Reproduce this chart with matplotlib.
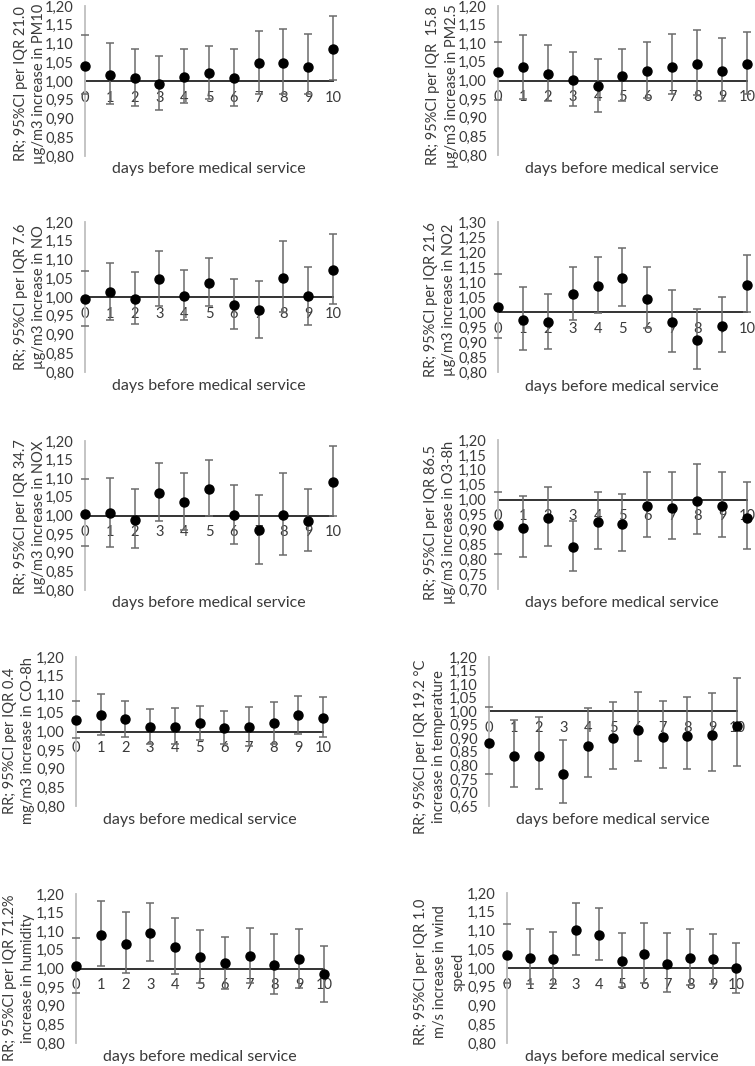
import matplotlib
matplotlib.use("Agg")
import matplotlib.pyplot as plt
from matplotlib.ticker import MultipleLocator, FuncFormatter

plt.rcParams['font.family'] = ['Lato', 'DejaVu Sans']

W, H = 755, 1066
days = [0, 1, 2, 3, 4, 5, 6, 7, 8, 9, 10]

# ---- data (RR, lower 95% CI, upper 95% CI) ----
pm10_rr = [1.041, 1.017, 1.008, 0.992, 1.010, 1.020, 1.008, 1.048, 1.049, 1.038, 1.084]
pm10_lo = [0.965, 0.939, 0.933, 0.922, 0.940, 0.952, 0.933, 0.966, 0.964, 0.964, 1.003]
pm10_hi = [1.123, 1.100, 1.086, 1.066, 1.084, 1.094, 1.086, 1.134, 1.140, 1.126, 1.172]

pm25_rr = [1.023, 1.037, 1.017, 1.001, 0.985, 1.011, 1.026, 1.037, 1.044, 1.026, 1.043]
pm25_lo = [0.948, 0.949, 0.946, 0.931, 0.915, 0.944, 0.954, 0.963, 0.960, 0.945, 0.964]
pm25_hi = [1.104, 1.123, 1.095, 1.076, 1.059, 1.085, 1.104, 1.126, 1.135, 1.113, 1.129]

no_rr = [0.995, 1.013, 0.996, 1.048, 1.003, 1.038, 0.979, 0.965, 1.050, 1.002, 1.072]
no_lo = [0.922, 0.938, 0.928, 0.977, 0.938, 0.977, 0.915, 0.891, 0.959, 0.926, 0.981]
no_hi = [1.070, 1.090, 1.067, 1.124, 1.071, 1.103, 1.047, 1.042, 1.150, 1.079, 1.167]

no2_rr = [1.017, 0.974, 0.967, 1.059, 1.087, 1.115, 1.043, 0.966, 0.907, 0.955, 1.091]
no2_lo = [0.914, 0.873, 0.878, 0.975, 0.998, 1.021, 0.947, 0.867, 0.810, 0.868, 1.000]
no2_hi = [1.126, 1.085, 1.061, 1.149, 1.182, 1.215, 1.149, 1.073, 1.011, 1.050, 1.191]

nox_rr = [1.004, 1.006, 0.988, 1.060, 1.036, 1.071, 1.002, 0.961, 1.001, 0.986, 1.089]
nox_lo = [0.918, 0.916, 0.912, 0.984, 0.962, 0.998, 0.923, 0.871, 0.895, 0.904, 0.999]
nox_hi = [1.097, 1.102, 1.071, 1.140, 1.113, 1.149, 1.082, 1.055, 1.115, 1.072, 1.187]

o3_rr = [0.915, 0.904, 0.937, 0.840, 0.924, 0.917, 0.977, 0.973, 0.995, 0.977, 0.939]
o3_lo = [0.817, 0.809, 0.843, 0.759, 0.835, 0.827, 0.875, 0.869, 0.885, 0.873, 0.833]
o3_hi = [1.024, 1.012, 1.043, 0.929, 1.025, 1.020, 1.091, 1.091, 1.119, 1.093, 1.058]

co_rr = [1.031, 1.043, 1.033, 1.012, 1.012, 1.023, 1.010, 1.011, 1.024, 1.043, 1.037]
co_lo = [0.982, 0.990, 0.985, 0.966, 0.966, 0.977, 0.966, 0.961, 0.967, 0.992, 0.985]
co_hi = [1.082, 1.100, 1.082, 1.060, 1.064, 1.069, 1.056, 1.066, 1.080, 1.094, 1.093]

temp_rr = [0.883, 0.834, 0.834, 0.768, 0.873, 0.900, 0.932, 0.905, 0.910, 0.911, 0.946]
temp_lo = [0.768, 0.720, 0.713, 0.660, 0.756, 0.785, 0.817, 0.791, 0.787, 0.780, 0.797]
temp_hi = [1.017, 0.966, 0.977, 0.893, 1.012, 1.035, 1.070, 1.038, 1.053, 1.067, 1.124]

hum_rr = [1.006, 1.091, 1.066, 1.095, 1.058, 1.030, 1.014, 1.034, 1.009, 1.026, 0.984]
hum_lo = [0.933, 1.006, 0.987, 1.019, 0.984, 0.962, 0.945, 0.960, 0.931, 0.947, 0.910]
hum_hi = [1.082, 1.181, 1.151, 1.176, 1.135, 1.103, 1.085, 1.110, 1.093, 1.106, 1.060]

wind_rr = [1.035, 1.028, 1.024, 1.102, 1.088, 1.020, 1.037, 1.012, 1.028, 1.024, 1.000]
wind_lo = [0.960, 0.957, 0.957, 1.035, 1.021, 0.950, 0.960, 0.937, 0.956, 0.957, 0.934]
wind_hi = [1.116, 1.105, 1.095, 1.173, 1.159, 1.094, 1.121, 1.094, 1.104, 1.091, 1.068]

ylabels = [
    "RR; 95%CI per IQR 21.0\nµg/m3 increase in PM10",
    "RR; 95%CI per IQR  15.8\nµg/m3 increase in PM2.5",
    "RR; 95%CI per IQR 7.6\nµg/m3 increase in NO",
    "RR; 95%CI per IQR 21.6\nµg/m3 increase in NO2",
    "RR; 95%CI per IQR 34.7\nµg/m3 increase in NOX",
    "RR; 95%CI per IQR 86.5\nµg/m3 increase in O3-8h",
    "RR; 95%CI per IQR 0.4\nmg/m3 increase in CO-8h",
    "RR; 95%CI per IQR 19.2 °C\nincrease in temperature",
    "RR; 95%CI per IQR 71.2%\nincrease in humidity",
    "RR; 95%CI per IQR 1.0\nm/s increase in wind\nspeed",
]
xlabel = "days before medical service"
ymins = [0.80, 0.80, 0.80, 0.80, 0.80, 0.70, 0.80, 0.65, 0.80, 0.80]
ymaxs = [1.20, 1.20, 1.20, 1.30, 1.20, 1.20, 1.20, 1.20, 1.20, 1.20]

series = [
    (pm10_rr, pm10_lo, pm10_hi), (pm25_rr, pm25_lo, pm25_hi),
    (no_rr, no_lo, no_hi), (no2_rr, no2_lo, no2_hi),
    (nox_rr, nox_lo, nox_hi), (o3_rr, o3_lo, o3_hi),
    (co_rr, co_lo, co_hi), (temp_rr, temp_lo, temp_hi),
    (hum_rr, hum_lo, hum_hi), (wind_rr, wind_lo, wind_hi),
]

# layout in pixels: x_left, x_right, y_top, y_bottom, ylabel center (x,y), xlabel center (x,y)
layout = [
    (85, 333, 6, 156, (30, 84), (209, 169)),
    (498, 747, 6, 155, (442.5, 86), (622, 169)),
    (85, 333, 222, 372, (30, 297), (209, 386)),
    (498, 747, 222, 372, (440, 300), (622, 387)),
    (85, 333, 441, 590, (30, 517), (209, 603)),
    (498, 747, 440, 589, (440, 522), (622, 603)),
    (76, 323, 657, 806, (19, 741), (200, 820)),
    (489, 737, 657, 806, (430, 747), (613, 820)),
    (76, 324, 894, 1043, (19, 978), (200, 1057)),
    (507, 736, 893, 1043, (440, 972), (622, 1057)),
]

fig = plt.figure(figsize=(W / 100, H / 100), dpi=100)
fmt = FuncFormatter(lambda v, p: f"{v:.2f}".replace('.', ','))
txt_color = '#3a3a3a'

for i, ((rr, lo, hi), (x0, x1, yt, yb, ylc, xlc)) in enumerate(zip(series, layout)):
    w, h = x1 - x0, yb - yt
    ax = fig.add_axes([x0 / W, 1 - yb / H, w / W, h / H])
    lower = [r - l for r, l in zip(rr, lo)]
    upper = [u - r for r, u in zip(rr, hi)]
    eb = ax.errorbar(days, rr, yerr=[lower, upper], fmt='o', color='black',
                     markersize=6.5, ecolor='#6b6b6b', elinewidth=1.1,
                     capsize=3.2, capthick=1.1, clip_on=False, zorder=3)
    for art in eb.lines[1] + eb.lines[2]:
        art.set_clip_on(False)
    for art in eb.lines[2]:
        art.set_zorder(2)
    ax.set_xlim(0, 10)
    ax.set_ylim(ymins[i], ymaxs[i])
    ax.yaxis.set_major_locator(MultipleLocator(0.05))
    ax.yaxis.set_major_formatter(fmt)
    ax.set_xticks(days)
    ax.set_xticklabels([str(d) for d in days])
    for s in ['top', 'right']:
        ax.spines[s].set_visible(False)
    ax.spines['left'].set_color('#bfbfbf')
    ax.spines['left'].set_linewidth(1.3)
    ax.spines['bottom'].set_position(('data', 1.0))
    ax.spines['bottom'].set_color('#333333')
    ax.spines['bottom'].set_linewidth(1.4)
    ax.spines['bottom'].set_zorder(1)
    ax.tick_params(axis='y', length=0, pad=8, labelsize=10.5, labelcolor=txt_color)
    ax.tick_params(axis='x', length=0, pad=7, labelsize=10.5, labelcolor=txt_color)
    ax.set_facecolor('none')
    ax.set_ylabel(ylabels[i], fontsize=10.5, color=txt_color, linespacing=1.45)
    ax.yaxis.set_label_coords((ylc[0] - x0) / w, (yb - ylc[1]) / h)
    ax.set_xlabel(xlabel, fontsize=11.5, color=txt_color)
    ax.xaxis.set_label_coords((xlc[0] - x0) / w, (yb - xlc[1]) / h)
    ax.xaxis.label.set_va('center')
    ax.yaxis.label.set_va('center')

fig.savefig('out.png', dpi=100)
